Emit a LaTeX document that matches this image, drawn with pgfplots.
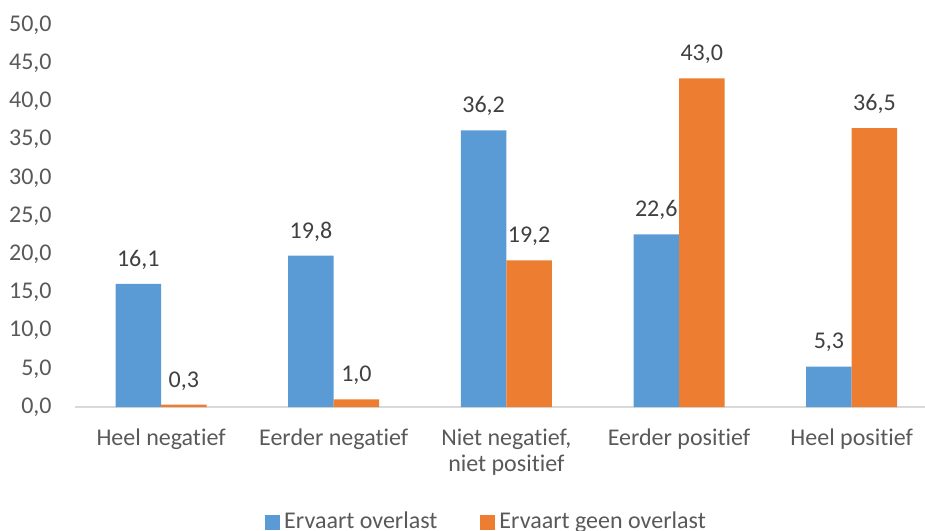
\documentclass[border=0pt]{standalone}
\usepackage{fontspec}
\setmainfont{Carlito}[Ligatures={NoCommon,NoDiscretionary,NoContextual}]
\usepackage{pgfplots}
\pgfplotsset{compat=1.18}
\definecolor{cblue}{HTML}{5B9BD5}
\definecolor{corange}{HTML}{ED7D31}
\definecolor{tickgray}{HTML}{595959}
\definecolor{lblgray}{HTML}{404040}
\definecolor{axgray}{HTML}{D9D9D9}
\begin{document}
\fontsize{12}{13}\selectfont
\begin{tikzpicture}
\begin{axis}[
  at={(37.35pt,61.5pt)}, anchor=south west,
  scale only axis, width=431.65pt, height=191pt,
  xmin=-0.5, xmax=4.5, ymin=0, ymax=50,
  ybar=0pt, bar width=22.75pt,
  clip=false,
  axis x line=bottom, axis y line=left,
  x axis line style={draw=axgray, line width=0.8pt, -},
  y axis line style={draw=none},
  major tick length=0pt,
  xtick={0,1,2,3,4},
  xticklabels={Heel negatief, Eerder negatief, {Niet negatief,\\niet positief}, Eerder positief, Heel positief},
  xticklabel style={align=center, text=tickgray, font=\fontsize{12}{13}\selectfont, anchor=north, inner sep=0pt, yshift=-10.8pt},
  ytick={0,5,...,50},
  yticklabel style={text=tickgray, font=\fontsize{12}{13}\selectfont, anchor=east, inner sep=0pt, xshift=-11.35pt},
  /pgf/number format/.cd, fixed, fixed zerofill, precision=1, use comma, assume math mode=true, /pgfplots/.cd,
  nodes near coords,
  every node near coord/.append style={text=lblgray, font=\fontsize{12}{13}\selectfont, anchor=base, inner sep=0pt, yshift=8.8pt},
  legend columns=2,
  legend style={draw=none, fill=none, at={(0.4735,0)}, anchor=center, yshift=-57.5pt, xshift=2pt,
    font=\fontsize{12}{13}\selectfont, text=tickgray,
    /tikz/every even column/.append style={column sep=19.5pt},
    /tikz/every odd column/.append style={column sep=0pt}},
  legend cell align=left,
]
\addplot[fill=cblue, draw=none, legend image code/.code={\fill[cblue] (0pt,-3.75pt) rectangle (7.5pt,3.75pt);}]
  coordinates {(0,16.1) (1,19.8) (2,36.2) (3,22.6) (4,5.3)};
\addplot[fill=corange, draw=none, legend image code/.code={\fill[corange] (0pt,-3.75pt) rectangle (7.5pt,3.75pt);}]
  coordinates {(0,0.3) (1,1.0) (2,19.2) (3,43.0) (4,36.5)};
\legend{Ervaart overlast, Ervaart geen overlast}
\end{axis}
\pgfresetboundingbox
\useasboundingbox (0,0) rectangle (462.5pt,265pt);
\end{tikzpicture}
\end{document}
